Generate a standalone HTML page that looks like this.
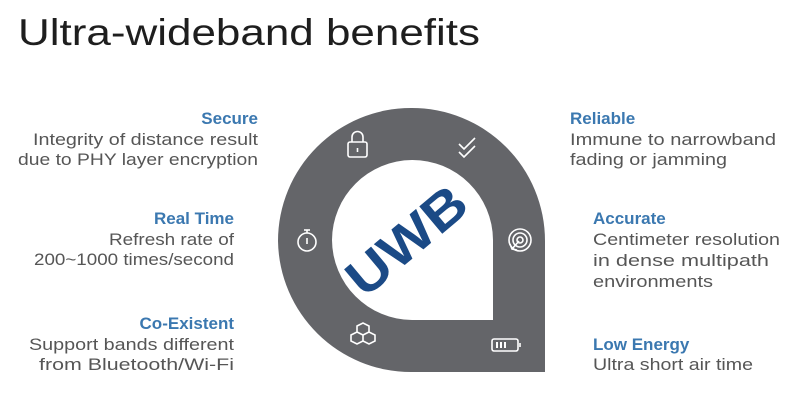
<!DOCTYPE html>
<html><head><style>html,body{margin:0;padding:0;background:#fff}svg{display:block}</style></head><body>
<svg width="800" height="403" viewBox="0 0 800 403" xmlns="http://www.w3.org/2000/svg" font-family="Liberation Sans, sans-serif">
<text x="18" y="45" font-size="37" fill="#1e1e1e" textLength="462" lengthAdjust="spacingAndGlyphs">Ultra-wideband benefits</text>
<path d="M411,108 A133,133 0 0 1 545,241 L545,372 L411,372 A133,133 0 0 1 278,241 A133,133 0 0 1 411,108 Z" fill="#646569"/>
<path d="M412,160 A80.5,80.5 0 0 1 493,240 L493,320 L412,320 A80.5,80.5 0 0 1 332,240 A80.5,80.5 0 0 1 412,160 Z" fill="#fff"/>
<text x="0" y="0" font-size="52" font-weight="bold" fill="#1b4a86" text-anchor="middle" transform="translate(418,254) rotate(-40)" textLength="140" lengthAdjust="spacingAndGlyphs">UWB</text>
<g fill="none" stroke="#fff" stroke-width="1.6">
 <rect x="348" y="142" width="19" height="15" rx="2"/><path d="M352,142 v-5 a5.5,5.5 0 0 1 11,0 v5"/><line x1="357.5" y1="148" x2="357.5" y2="152"/>
 <path d="M459,144 l5,5 l11,-11 M459,152 l5,5 l11,-11"/>
 <circle cx="307" cy="242" r="9"/><line x1="307" y1="238" x2="307" y2="244"/><line x1="304" y1="230" x2="310" y2="230"/><line x1="307" y1="230" x2="307" y2="233"/>
 <circle cx="520" cy="240" r="11"/><circle cx="520" cy="240" r="7"/><circle cx="520" cy="240" r="3"/><path d="M519,241 l-7,8 M510,244 l2,5 5,1"/>
 <path d="M357,326 l6,-3 6,3 v6 l-6,3 -6,-3z M351,335 l6,-3 6,3 v6 l-6,3 -6,-3z M363,335 l6,-3 6,3 v6 l-6,3 -6,-3z"/>
 <rect x="492" y="339" width="26" height="12" rx="2"/><line x1="520" y1="343" x2="520" y2="347"/>
</g>
<g fill="#fff"><rect x="496" y="342" width="2" height="6"/><rect x="500" y="342" width="2" height="6"/><rect x="504" y="342" width="2" height="6"/></g>
<g font-size="17" fill="#565656" lengthAdjust="spacingAndGlyphs">
 <g text-anchor="end">
  <text x="258" y="124" font-weight="bold" fill="#3b78b0">Secure</text>
  <text x="258" y="145" textLength="225" lengthAdjust="spacingAndGlyphs">Integrity of distance result</text>
  <text x="258" y="165" textLength="240" lengthAdjust="spacingAndGlyphs">due to PHY layer encryption</text>
  <text x="234" y="224" font-weight="bold" fill="#3b78b0">Real Time</text>
  <text x="234" y="245" textLength="125" lengthAdjust="spacingAndGlyphs">Refresh rate of</text>
  <text x="234" y="265" textLength="200" lengthAdjust="spacingAndGlyphs">200~1000 times/second</text>
  <text x="234" y="329" font-weight="bold" fill="#3b78b0">Co-Existent</text>
  <text x="234" y="350" textLength="205" lengthAdjust="spacingAndGlyphs">Support bands different</text>
  <text x="234" y="370" textLength="195" lengthAdjust="spacingAndGlyphs">from Bluetooth/Wi-Fi</text>
 </g>
 <text x="570" y="124" font-weight="bold" fill="#3b78b0">Reliable</text>
 <text x="570" y="145" textLength="206" lengthAdjust="spacingAndGlyphs">Immune to narrowband</text>
 <text x="570" y="165" textLength="157" lengthAdjust="spacingAndGlyphs">fading or jamming</text>
 <text x="593" y="224" font-weight="bold" fill="#3b78b0">Accurate</text>
 <text x="593" y="245" textLength="187" lengthAdjust="spacingAndGlyphs">Centimeter resolution</text>
 <text x="593" y="266" textLength="176" lengthAdjust="spacingAndGlyphs">in dense multipath</text>
 <text x="593" y="287" textLength="120" lengthAdjust="spacingAndGlyphs">environments</text>
 <text x="593" y="350" font-weight="bold" fill="#3b78b0">Low Energy</text>
 <text x="593" y="370" textLength="160" lengthAdjust="spacingAndGlyphs">Ultra short air time</text>
</g>
</svg>
</body></html>
